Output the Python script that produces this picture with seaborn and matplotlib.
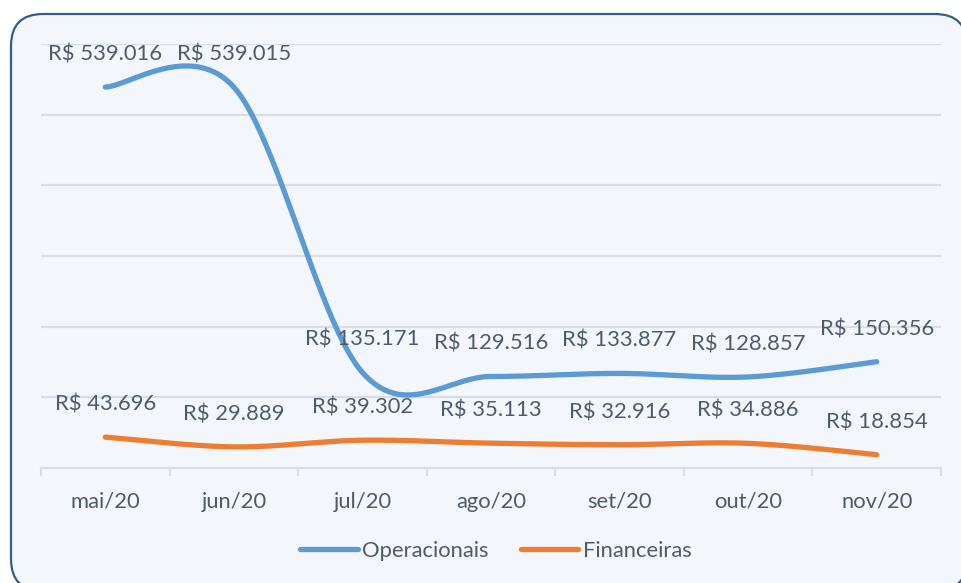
import numpy as np
import pandas as pd
import seaborn as sns
import matplotlib.pyplot as plt
from matplotlib.patches import FancyBboxPatch

months = ["mai/20", "jun/20", "jul/20", "ago/20", "set/20", "out/20", "nov/20"]
operacionais = [539016, 539015, 135171, 129516, 133877, 128857, 150356]
financeiras = [43696, 29889, 39302, 35113, 32916, 34886, 18854]
series_names = ["Operacionais", "Financeiras"]
colors = ["#5B9BD5", "#ED7D31"]

TEXT = "#4F5B6B"
GRID = "#D9DEE6"
FS = 15.8


def smooth(xs, ys, n=40):
    # Excel-style smoothed line: Catmull-Rom as cubic Bezier segments
    p = np.column_stack([xs, ys]).astype(float)
    p = np.vstack([p[0], p, p[-1]])
    out = []
    for i in range(1, len(p) - 2):
        p0, p1, p2, p3 = p[i - 1], p[i], p[i + 1], p[i + 2]
        c1 = p1 + (p2 - p0) / 6
        c2 = p2 - (p3 - p1) / 6
        t = np.linspace(0, 1, n)[:, None]
        seg = ((1 - t) ** 3) * p1 + 3 * ((1 - t) ** 2) * t * c1 + 3 * (1 - t) * t ** 2 * c2 + t ** 3 * p2
        out.append(seg if i == 1 else seg[1:])
    return np.vstack(out)


def brl(v):
    return "R$ " + f"{v:,.0f}".replace(",", ".")


sns.set_theme(style="white")
plt.rcParams["font.family"] = ["Lato", "DejaVu Sans"]

fig = plt.figure(figsize=(9.61, 5.83), dpi=100)
fig.patch.set_facecolor("white")

# rounded chart frame (pixel coordinates), drawn below the axes
frame = FancyBboxPatch((11, -8), 956, 577, boxstyle="round,pad=0,rounding_size=32",
                       transform=None, facecolor="#F3F6FA", edgecolor="#2F5F8C",
                       linewidth=1.6, zorder=-1)
fig.patches.append(frame)

ax = fig.add_axes([41 / 961, (583 - 468) / 583, 900 / 961, 424 / 583])
ax.set_facecolor("none")

xs = np.arange(len(months))
rows = []
for name, vals in zip(series_names, [operacionais, financeiras]):
    curve = smooth(xs, vals)
    rows.append(pd.DataFrame({"x": curve[:, 0], "y": curve[:, 1], "serie": name}))
df = pd.concat(rows, ignore_index=True)

sns.lineplot(data=df, x="x", y="y", hue="serie", palette=colors, sort=False,
             estimator=None, linewidth=3.8, ax=ax, zorder=3)
for line in ax.lines:
    line.set_solid_capstyle("round")

for vals in [operacionais, financeiras]:
    for x, v in zip(xs, vals):
        ax.annotate(brl(v), (x, v), xytext=(0, 23.5), textcoords="offset points",
                    ha="center", va="center", fontsize=FS, color=TEXT)

ax.set_xlim(-0.5, len(months) - 0.5)
ax.set_ylim(0, 600000)
ax.set_yticks(np.arange(0, 600001, 100000))
ax.set_yticklabels([])
ax.grid(axis="y", color=GRID, linewidth=1.6)
ax.tick_params(axis="y", length=0)

ax.set_xticks(xs)
ax.set_xticklabels(months, fontsize=FS, color=TEXT)
ax.set_xticks(np.arange(-0.5, len(months), 1), minor=True)
ax.tick_params(axis="x", which="major", bottom=True, length=0, pad=17)
ax.tick_params(axis="x", which="minor", bottom=True, length=6, width=1.6,
               color=GRID, direction="out")
ax.set_xlabel("")
ax.set_ylabel("")

for side in ["top", "right", "left"]:
    ax.spines[side].set_visible(False)
ax.spines["bottom"].set_color(GRID)
ax.spines["bottom"].set_linewidth(1.6)

leg = ax.legend(loc="center", bbox_to_anchor=(496 / 961, 1 - 551 / 583),
                bbox_transform=fig.transFigure, ncol=2, frameon=False,
                fontsize=FS, handlelength=2.6, handletextpad=0.2, columnspacing=1.5)
for t in leg.get_texts():
    t.set_color(TEXT)

fig.savefig("out.png", dpi=100)
